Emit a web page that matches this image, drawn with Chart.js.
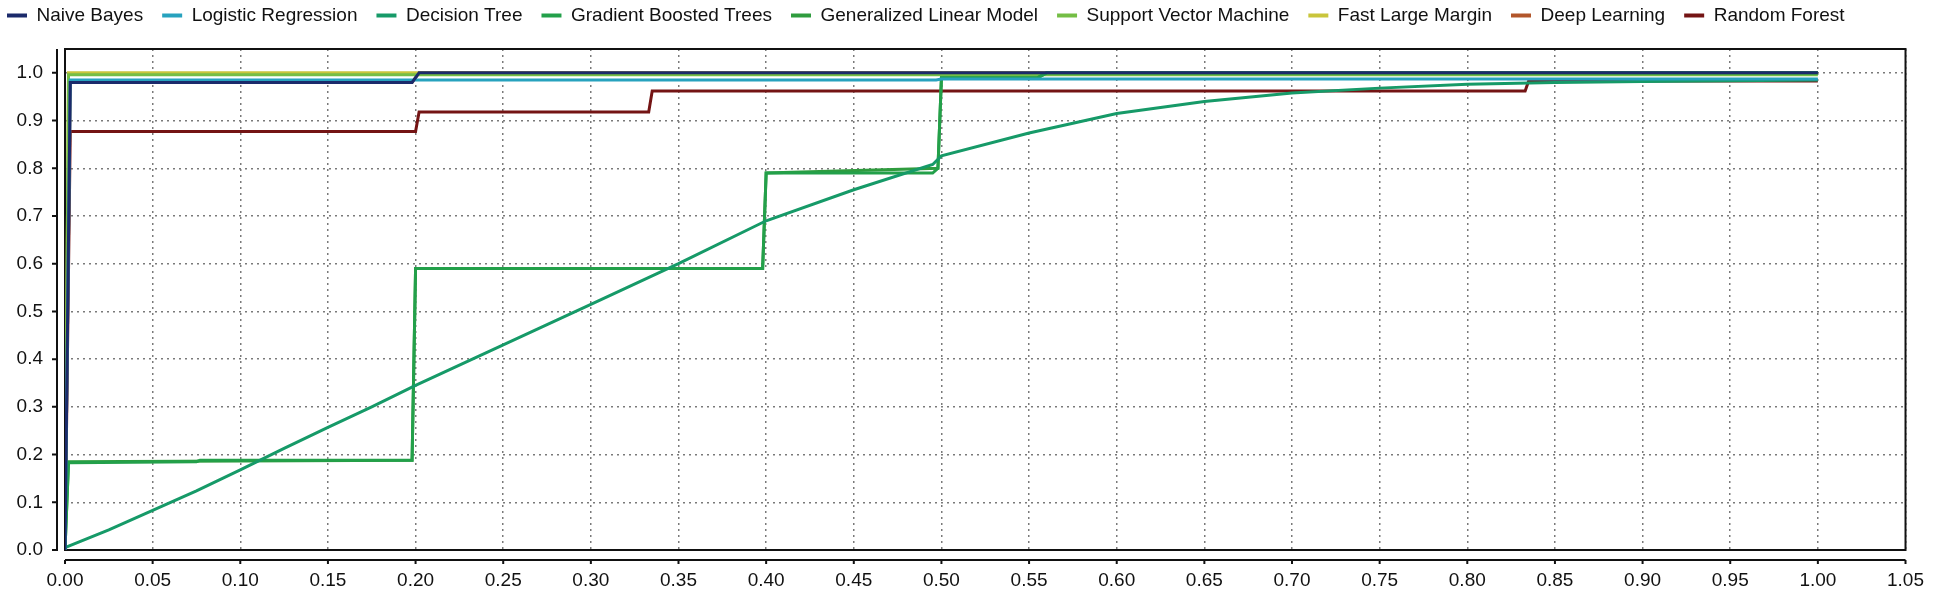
<!DOCTYPE html>
<html>
<head>
<meta charset="utf-8">
<script src="https://cdn.jsdelivr.net/npm/chart.js@4.4.1/dist/chart.umd.min.js"></script>
<style>
  html, body { margin: 0; padding: 0; background: #fff; }
  #wrap { width: 1943px; height: 592px; }
</style>
</head>
<body>
<div id="wrap"><canvas id="chart" width="1943" height="592"></canvas></div>
<script>
// ROC curves, one per model (x = false positive rate, y = true positive rate)
var modelNames = ['Naive Bayes', 'Logistic Regression', 'Decision Tree', 'Gradient Boosted Trees',
	'Generalized Linear Model', 'Support Vector Machine', 'Fast Large Margin', 'Deep Learning', 'Random Forest'];
var modelColors = ['#1b2a6b', '#27a2be', '#169a68', '#23a04a', '#2f9c3e', '#74be45', '#c9c53b', '#b2562b', '#741414'];

var naiveBayesX = [0, 0.003, 0.198, 0.202, 1.0];
var naiveBayesY = [0, 0.980, 0.980, 1.000, 1.000];

var logisticX = [0, 0.003, 0.497, 0.500, 1.0];
var logisticY = [0, 0.985, 0.985, 0.987, 0.987];

var treeX = [0, 0.025, 0.05, 0.075, 0.10, 0.125, 0.15, 0.175, 0.20, 0.25, 0.30, 0.35, 0.40, 0.45, 0.495, 0.50, 0.55, 0.60, 0.65, 0.70, 0.75, 0.80, 0.85, 0.90, 1.0];
var treeY = [0.005, 0.042, 0.083, 0.124, 0.168, 0.213, 0.257, 0.300, 0.345, 0.430, 0.515, 0.600, 0.690, 0.755, 0.808, 0.826, 0.874, 0.915, 0.940, 0.958, 0.968, 0.976, 0.980, 0.982, 0.985];

var boostedX = [0, 0.002, 0.075, 0.077, 0.198, 0.200, 0.398, 0.400, 0.495, 0.498, 0.500, 0.555, 0.560, 1.0];
var boostedY = [0, 0.183, 0.185, 0.188, 0.188, 0.590, 0.590, 0.790, 0.790, 0.800, 0.990, 0.990, 1.000, 1.000];

var glmX = [0, 0.002, 0.198, 0.200, 0.398, 0.400, 0.498, 0.500, 0.555, 0.560, 1.0];
var glmY = [0, 0.185, 0.188, 0.590, 0.590, 0.790, 0.800, 0.990, 0.990, 1.000, 1.000];

var svmX = [0, 0.002, 1.0];
var svmY = [0, 0.996, 0.996];

var flmX = [0, 0.002, 1.0];
var flmY = [0, 1.000, 1.000];

var deepX = [0, 0.003, 0.198, 0.202, 1.0];
var deepY = [0, 0.980, 0.980, 1.000, 1.000];

var forestX = [0, 0.003, 0.200, 0.202, 0.333, 0.335, 0.833, 0.835, 1.0];
var forestY = [0, 0.877, 0.877, 0.918, 0.918, 0.962, 0.962, 0.983, 0.983];

var seriesX = [naiveBayesX, logisticX, treeX, boostedX, glmX, svmX, flmX, deepX, forestX];
var seriesY = [naiveBayesY, logisticY, treeY, boostedY, glmY, svmY, flmY, deepY, forestY];

function toPoints(xs, ys) {
	return xs.map(function (v, i) { return { x: v, y: ys[i] }; });
}

var datasets = modelNames.map(function (name, i) {
	return {
		label: name,
		data: toPoints(seriesX[i], seriesY[i]),
		borderColor: modelColors[i],
		backgroundColor: modelColors[i],
		borderWidth: 3,
		pointRadius: 0,
		tension: 0,
		fill: false
	};
});

// plot box plus the offset axis lines with short ticks
var frame = {
	id: 'frame',
	beforeDatasetsDraw: function (chart) {
		var ctx = chart.ctx, a = chart.chartArea, xs = chart.scales.x, ys = chart.scales.y;
		ctx.save();
		ctx.strokeStyle = '#111';
		ctx.lineWidth = 2;
		ctx.strokeRect(a.left, a.top, a.right - a.left, a.bottom - a.top);
		ctx.beginPath();
		var ax = a.left - 8;
		ctx.moveTo(ax, a.top);
		ctx.lineTo(ax, a.bottom + 1);
		ys.ticks.forEach(function (t) {
			var py = ys.getPixelForValue(t.value);
			ctx.moveTo(ax - 5, py);
			ctx.lineTo(ax, py);
		});
		var ay = a.bottom + 10;
		ctx.moveTo(a.left, ay);
		ctx.lineTo(a.right, ay);
		xs.ticks.forEach(function (t) {
			var px = xs.getPixelForValue(t.value);
			ctx.moveTo(px, ay);
			ctx.lineTo(px, ay + 4);
		});
		ctx.stroke();
		ctx.restore();
	}
};

var axisFont = { family: "'Liberation Sans', Arial, sans-serif", size: 19 };

var chart = new Chart(document.getElementById('chart').getContext('2d'), {
	type: 'line',
	data: { datasets: datasets },
	plugins: [frame],
	options: {
		responsive: false,
		animation: false,
		devicePixelRatio: 1,
		layout: { padding: { top: -13, right: 23, left: -12, bottom: 0 } },
		plugins: {
			tooltip: { enabled: false },
			// empty title only used as a spacer between legend and plot
			title: {
				display: true,
				text: '',
				weight: 100,
				font: { size: 1, lineHeight: 1 },
				padding: { top: 13, bottom: 0 }
			},
			legend: {
				position: 'top',
				align: 'start',
				weight: 3000,
				labels: {
					boxWidth: 20,
					boxHeight: 4,
					padding: 19,
					color: '#111',
					font: { family: "'Liberation Sans', Arial, sans-serif", size: 19 },
					generateLabels: function (c) {
						return Chart.defaults.plugins.legend.labels.generateLabels(c).map(function (l) {
							l.lineWidth = 0;
							return l;
						});
					}
				}
			}
		},
		scales: {
			x: {
				type: 'linear',
				min: 0,
				max: 1.05,
				afterFit: function (s) { s.height = 42; },
				ticks: {
					stepSize: 0.05,
					padding: 19,
					color: '#111',
					font: axisFont,
					maxRotation: 0,
					autoSkip: false,
					callback: function (v) { return Number(v).toFixed(2); }
				},
				grid: { color: '#7a7a7a', lineWidth: 1.5, drawTicks: false },
				border: { display: false, dash: [2, 4] }
			},
			y: {
				type: 'linear',
				min: 0,
				max: 1.05,
				afterFit: function (s) { s.width = 77; },
				ticks: {
					stepSize: 0.1,
					includeBounds: false,
					padding: 22,
					color: '#111',
					font: axisFont,
					callback: function (v) { return Number(v).toFixed(1); }
				},
				grid: { color: '#7a7a7a', lineWidth: 1.5, drawTicks: false },
				border: { display: false, dash: [2, 4] }
			}
		}
	}
});
</script>
</body>
</html>
